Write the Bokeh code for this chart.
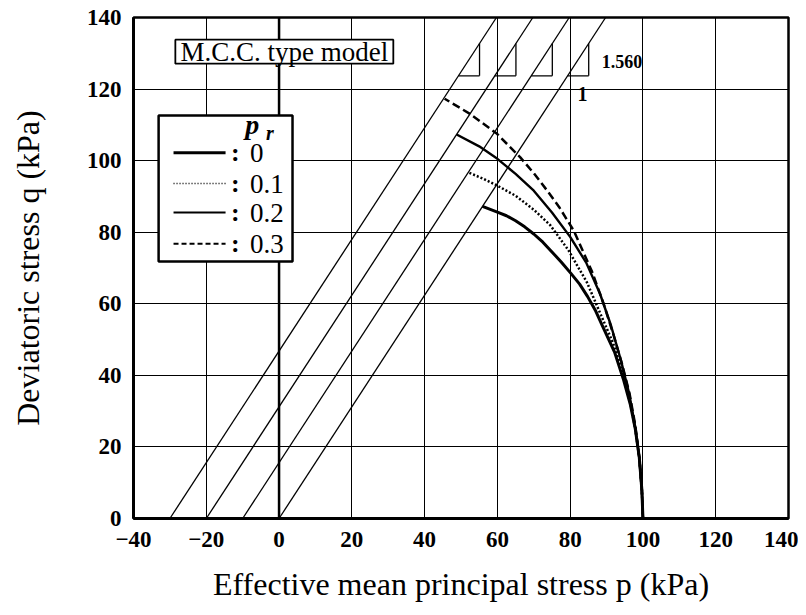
from bokeh.plotting import figure
from bokeh.models import Range1d, Label, Span, FixedTicker
from bokeh.embed import file_html
from bokeh.resources import INLINE

# ---------------- data ----------------
M = 1.56            # slope of critical state lines
P0 = 100.0          # initial mean stress (kPa)
pr_values = [0.0, 0.1, 0.2, 0.3]
pr_labels = ["0", "0.1", "0.2", "0.3"]

# stress paths (p, q in kPa)
p_pr00 = [100, 99.7, 99.0, 97.9, 96.5, 94.6, 92.2, 88.8, 86.9, 84.8, 82.6, 80.2, 77.6, 75.0, 72.5, 70.0, 67.5, 65.0, 62.5, 60.0, 55.9]
q_pr00 = [0, 8, 17, 25, 32, 39, 46.5, 54, 58.2, 62, 65.5, 68.5, 71.6, 74.5, 77.2, 79.5, 81.5, 83.2, 84.6, 85.6, 87.2]

p_pr01 = [100, 99.7, 99.0, 97.9, 96.4, 94.4, 91.8, 88.4, 84.6, 79.5, 74.5, 70.0, 65.0, 60.0, 56.0, 52.0]
q_pr01 = [0, 8, 17, 25, 33, 41, 49, 57, 66, 75, 82, 86.3, 90.2, 93.0, 95.0, 96.7]

p_pr02 = [100, 99.7, 99.0, 97.8, 96.2, 94.0, 91.2, 88.2, 84.4, 80.0, 75.0, 70.0, 65.0, 60.0, 55.0, 48.8]
q_pr02 = [0, 8, 17, 26, 35, 44, 54, 62.8, 71.5, 78.7, 85.5, 91.6, 96.3, 100.5, 104, 107.3]

p_pr03 = [100, 99.7, 99.0, 97.9, 96.3, 94.3, 92.0, 89.2, 86.0, 81.0, 77.0, 73.7, 70.0, 66.3, 59.9, 52.6, 45.5]
q_pr03 = [0, 8, 17, 26, 35, 43, 51, 60, 69, 80.4, 87, 91.6, 96.5, 100.9, 107.5, 113, 117.3]

x_ticks = [-40, -20, 0, 20, 40, 60, 80, 100, 120, 140]
y_ticks = [0, 20, 40, 60, 80, 100, 120, 140]

slope_text = "1.560"
model_text = "M.C.C. type model"
x_title = "Effective mean principal stress p (kPa)"
y_title = "Deviatoric stress q (kPa)"

paths = [(p_pr00, q_pr00), (p_pr01, q_pr01), (p_pr02, q_pr02), (p_pr03, q_pr03)]

# ---------------- styles ----------------
SERIF = "Liberation Serif"
curve_styles = [
    dict(line_width=3.0, line_dash="solid"),
    dict(line_width=2.5, line_dash="2 2"),
    dict(line_width=2.4, line_dash="solid"),
    dict(line_width=2.5, line_dash="8 4"),
]
legend_styles = [
    dict(line_width=3.0, line_dash="solid"),
    dict(line_width=1.6, line_dash="1 2"),
    dict(line_width=2.0, line_dash="solid"),
    dict(line_width=2.0, line_dash="5 3"),
]

XMIN, XMAX = x_ticks[0], x_ticks[-1]
YMIN, YMAX = y_ticks[0], y_ticks[-1]

p = figure(width=798, height=607,
           x_range=Range1d(XMIN, XMAX), y_range=Range1d(YMIN, YMAX),
           output_backend="svg", toolbar_location=None,
           min_border_left=133, min_border_right=10,
           min_border_top=17, min_border_bottom=89)

p.background_fill_color = "white"
p.border_fill_color = "white"
p.outline_line_color = "black"
p.outline_line_width = 2.5

for ax, ticks in ((p.xaxis, x_ticks), (p.yaxis, y_ticks)):
    ax.ticker = FixedTicker(ticks=ticks)
    ax.axis_line_width = 3
    ax.axis_line_color = "black"
    ax.major_tick_line_color = None
    ax.minor_tick_line_color = None
    ax.major_label_text_font = SERIF
    ax.major_label_text_font_style = "bold"
    ax.major_label_text_font_size = "23px"
    ax.major_label_text_color = "black"
    ax.axis_label_text_font = SERIF
    ax.axis_label_text_font_style = "normal"
    ax.axis_label_text_font_size = "32px"
    ax.axis_label_text_color = "black"

p.xaxis.axis_label = x_title
p.yaxis.axis_label = y_title
p.xaxis.major_label_standoff = 7
p.yaxis.major_label_standoff = 6
p.xaxis.axis_label_standoff = 16
p.yaxis.axis_label_standoff = 38

p.xgrid.ticker = FixedTicker(ticks=x_ticks)
p.ygrid.ticker = FixedTicker(ticks=y_ticks)
for g in (p.xgrid, p.ygrid):
    g.grid_line_color = "black"
    g.grid_line_width = 1
    g.grid_line_alpha = 1.0

# thicker q-axis line at p = 0 (behind boxes)
p.add_layout(Span(location=0, dimension="height", line_color="black",
                  line_width=2.5, level="underlay"))

# ---------------- critical state lines ----------------
offsets = [pr * P0 for pr in pr_values]
csl_x0 = [-o for o in offsets]
csl_y0 = [YMIN for _ in offsets]
csl_x1 = [YMAX / M - o for o in offsets]
csl_y1 = [YMAX for _ in offsets]
p.segment(x0=csl_x0, y0=csl_y0, x1=csl_x1, y1=csl_y1, line_color="black", line_width=1.3)

# slope triangles
QB = 123.7   # base level of triangles
TW = 5.8     # horizontal leg length
tri_xa = [QB / M - o for o in offsets]
tri_xb = [xa + TW for xa in tri_xa]
tri_top = [M * (xb + o) for xb, o in zip(tri_xb, offsets)]
p.segment(x0=tri_xa, y0=[QB] * 4, x1=tri_xb, y1=[QB] * 4, line_color="black", line_width=1.3)
p.segment(x0=tri_xb, y0=[QB] * 4, x1=tri_xb, y1=tri_top, line_color="black", line_width=1.3)

p.add_layout(Label(x=tri_xb[0] + 3.6, y=127.6, text=slope_text, text_font=SERIF,
                   text_font_style="bold", text_font_size="18px",
                   text_baseline="middle", text_align="left", text_color="black"))
p.add_layout(Label(x=tri_xb[0] - 1.7, y=118.5, text="1", text_font=SERIF,
                   text_font_style="bold", text_font_size="20px",
                   text_baseline="middle", text_align="center", text_color="black"))

# ---------------- stress paths ----------------
for (px, qy), st in zip(paths, curve_styles):
    p.line(px, qy, line_color="black", line_cap="butt", line_join="round", **st)

# ---------------- model name box ----------------
p.quad(left=[-28.5], right=[31.4], bottom=[127.1], top=[133.8],
       fill_color="white", line_color="black", line_width=1.8)
p.add_layout(Label(x=(-28.5 + 31.4) / 2, y=130.3, text=model_text, text_font=SERIF,
                   text_font_size="27px", text_align="center", text_baseline="middle",
                   text_color="black"))

# ---------------- legend ----------------
LX0, LX1, LY0, LY1 = -33.1, 3.7, 71.8, 112.6
p.quad(left=[LX0], right=[LX1], bottom=[LY0], top=[LY1],
       fill_color="white", line_color="black", line_width=2.5)
row_q = [102.2, 93.6, 85.5, 76.8]
for lab, st, rq in zip(pr_labels, legend_styles, row_q):
    p.line([-29.0, -14.7], [rq, rq], line_color="black", **st)
    p.add_layout(Label(x=-12.0, y=rq, text=":", text_font=SERIF, text_font_style="bold",
                       text_font_size="26px", text_align="center", text_baseline="middle",
                       text_color="black"))
    p.add_layout(Label(x=-8.0, y=rq, text=lab, text_font=SERIF,
                       text_font_size="27px", text_align="left", text_baseline="middle",
                       text_color="black"))
p.add_layout(Label(x=-9.3, y=110.0, text="p", text_font=SERIF, text_font_style="bold italic",
                   text_font_size="28px", text_align="left", text_baseline="middle",
                   text_color="black"))
p.add_layout(Label(x=-3.6, y=107.6, text="r", text_font=SERIF, text_font_style="bold italic",
                   text_font_size="20px", text_align="left", text_baseline="middle",
                   text_color="black"))

open("out.html", "w").write(file_html(p, INLINE))
